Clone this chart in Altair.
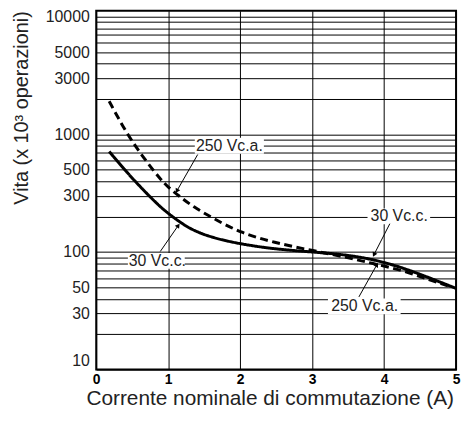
import altair as alt
import pandas as pd

# ---- data ----
solid_x = [0.18, 0.43, 0.66, 0.89, 1.0, 1.17, 1.35, 1.62, 2.0, 2.47, 3.0, 3.48, 4.0, 4.5, 5.0]
solid_y = [715, 472, 333, 242, 213, 178, 152, 132, 117, 106, 100, 95, 83, 65, 49]

dashed_x = [0.18, 0.43, 0.66, 0.89, 1.0, 1.17, 1.35, 1.62, 2.0, 2.47, 3.0, 3.48, 3.76, 4.0, 4.31, 4.63, 4.91]
dashed_y = [1910, 1000, 629, 416, 355, 293, 242, 194, 146, 120, 103, 90, 82, 76, 68, 58, 51]

x_ticks = [0, 1, 2, 3, 4, 5]
y_grid = [10, 20, 30, 40, 50, 60, 70, 80, 90,
          100, 200, 300, 400, 500, 600, 700, 800, 900,
          1000, 2000, 3000, 4000, 5000, 6000, 7000, 8000, 9000, 10000]
y_labels = [10, 30, 50, 100, 300, 500, 1000, 3000, 5000, 10000]

ann_text = ["250 Vc.a.", "30 Vc.c.", "30 Vc.c.", "250 Vc.a."]
ann_x = [1.85, 0.85, 4.21, 3.73]
ann_y = [800, 84, 201, 34.5]
box_x1 = [1.37, 0.44, 3.77, 3.22]
box_x2 = [2.33, 1.23, 4.64, 4.23]
arrow_x1 = [1.41, 0.89, 4.08, 3.65]
arrow_y1 = [674, 101, 174, 41.5]
arrow_x2 = [1.12, 1.14, 3.86, 3.90]
arrow_y2 = [330, 168, 95, 78]
arrow_angle = [210, 36, 207, 30]

FONT = "Liberation Sans"
TXT = "#222222"

curves = pd.DataFrame({
    "x": solid_x + dashed_x,
    "y": solid_y + dashed_y,
    "serie": ["30 Vc.c."] * len(solid_x) + ["250 Vc.a."] * len(dashed_x),
})
ann = pd.DataFrame({
    "text": ann_text, "x": ann_x, "y": ann_y,
    "bx1": box_x1, "bx2": box_x2,
    "ax1": arrow_x1, "ay1": arrow_y1, "ax2": arrow_x2, "ay2": arrow_y2,
    "ang": arrow_angle,
})

label_list = ",".join(str(v) for v in y_labels)
xscale = alt.Scale(domain=[0, 5], nice=False, zero=False)
yscale = alt.Scale(type="log", domain=[10, 11240], nice=False)

xaxis = alt.Axis(
    values=x_ticks, grid=True, gridColor="black", gridWidth=1, gridOpacity=1,
    domain=False, ticks=False, labelFlush=False,
    labelFont=FONT, labelFontSize=14, labelFontWeight="bold", labelColor="black",
    labelPadding=3,
    title="Corrente nominale di commutazione (A)", titleFont=FONT, titleFontSize=21,
    titleFontWeight="normal", titleColor=TXT, titleX=175, titleY=35,
    titleAlign="center", titleBaseline="alphabetic",
)
yaxis = alt.Axis(
    values=y_grid, grid=True, gridColor="black", gridWidth=1, gridOpacity=1,
    domain=False, ticks=False, labelOverlap=False,
    labelExpr=f"indexof([{label_list}], datum.value) >= 0 ? format(datum.value, 'd') : ''",
    labelFont=FONT, labelFontSize=16, labelColor=TXT, labelPadding=7,
    labelOffset={"condition": {"test": "datum.value == 10", "value": -9}, "value": 0},
    title="Vita (x 10³ operazioni)", titleFont=FONT, titleFontSize=20,
    titleFontWeight="normal", titleColor=TXT, titleAngle=270,
    titleX=-65, titleY=0, titleAlign="right", titleBaseline="bottom",
)

X = lambda f: alt.X(f, type="quantitative", scale=xscale, axis=xaxis)
Y = lambda f: alt.Y(f, type="quantitative", scale=yscale, axis=yaxis)

boxes = alt.Chart(ann).mark_rule(color="white", strokeWidth=16).encode(
    x=X("bx1"), x2="bx2", y=Y("y"))

lines = alt.Chart(curves).mark_line(color="black", strokeWidth=3, interpolate="basis").encode(
    x=X("x"), y=Y("y"),
    strokeDash=alt.StrokeDash("serie:N", scale=alt.Scale(
        domain=["30 Vc.c.", "250 Vc.a."], range=[[1, 0], [8, 4.5]]), legend=None),
    detail="serie:N",
)

arrows = alt.Chart(ann).mark_rule(color="black", strokeWidth=1).encode(
    x=X("ax1"), x2="ax2", y=Y("ay1"), y2="ay2")

heads = alt.Chart(ann).mark_point(shape="triangle-up", filled=True, color="black",
                                  opacity=1, size=28).encode(
    x=X("ax2"), y=Y("ay2"), angle=alt.Angle("ang:Q", scale=None))

labels = alt.Chart(ann).mark_text(font=FONT, fontSize=16, color=TXT,
                                  align="center", baseline="middle").encode(
    x=X("x"), y=Y("y"), text="text:N")

chart = alt.layer(boxes, lines, arrows, heads, labels).properties(
    width=363, height=362,
    autosize=alt.AutoSizeParams(type="none"),
    padding={"left": 89, "top": 1, "right": 5, "bottom": 45},
).configure_view(stroke="black", strokeWidth=2)

chart.save("out.html", embed_options={"renderer": "svg", "actions": False})
